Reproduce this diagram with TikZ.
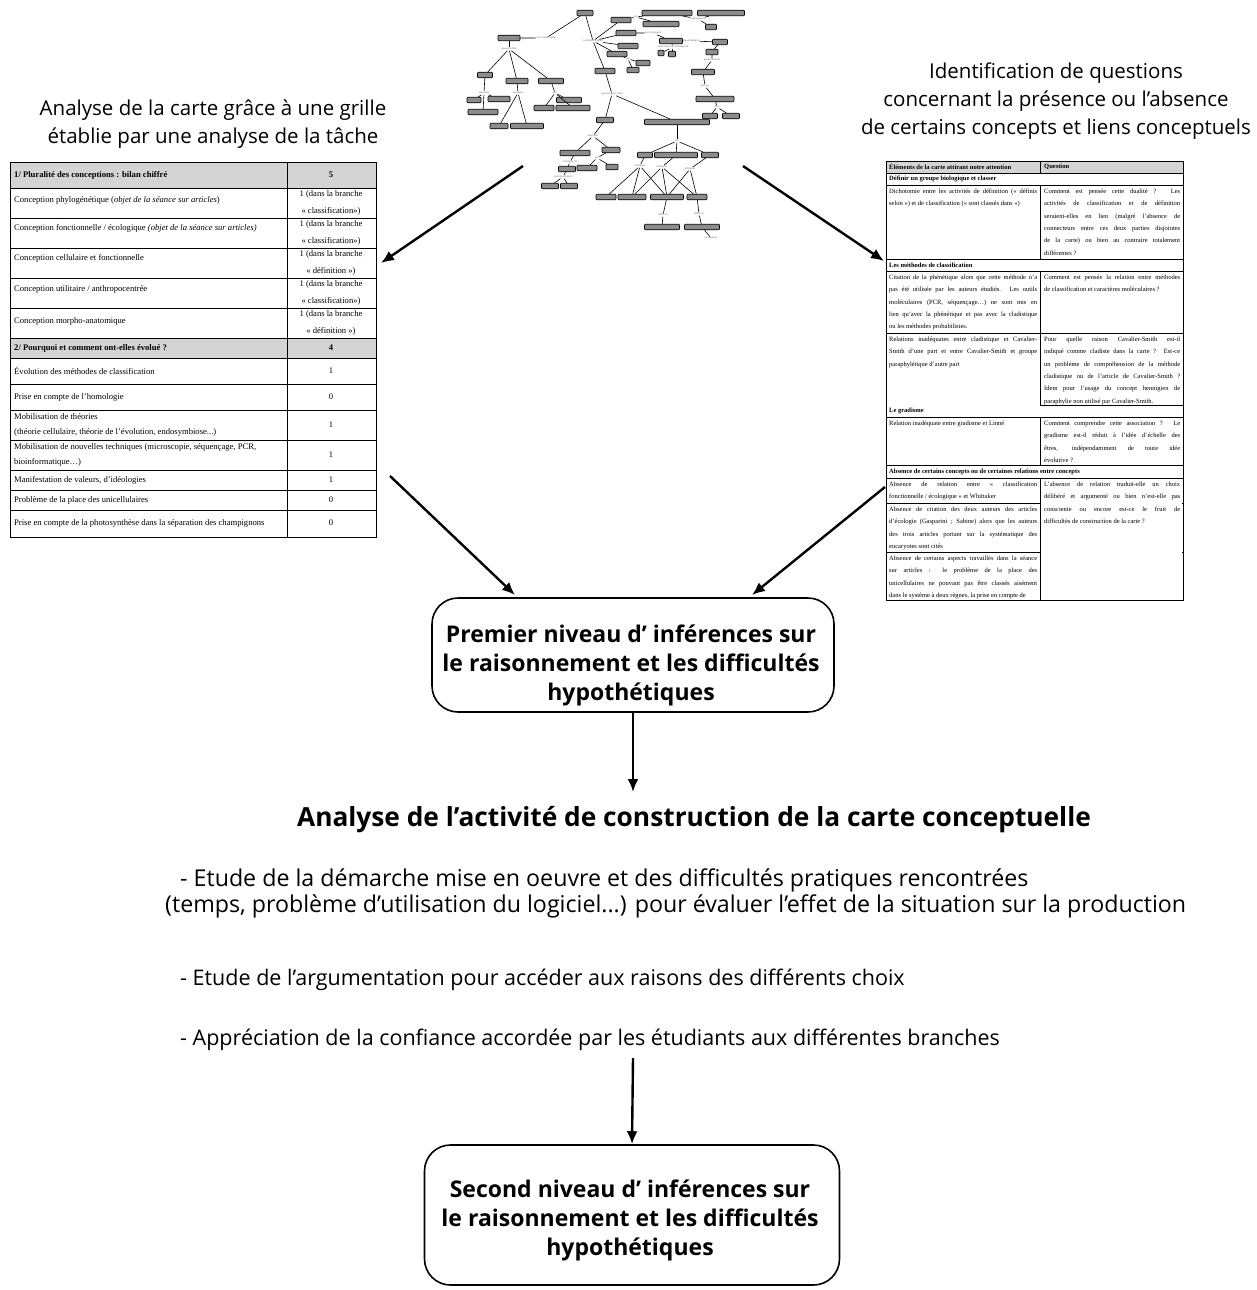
\documentclass[tikz,border=0pt]{standalone}
\usepackage{fontspec}
\setmainfont{Liberation Serif}
\newfontfamily\sansf{Open Sans}
\usetikzlibrary{arrows.meta}
\definecolor{tabgray}{HTML}{D4D4D4}
\definecolor{cmgray}{HTML}{8C8C8C}
\newcommand\cmn[4]{\node[cmbox,minimum width=#4pt] (#1) at (#2,#3) {};}
\newcommand\cml[4]{\node[cmlab] (#1) at (#2,#3) {#4};}
\begin{document}
\begin{tikzpicture}[x=1pt,y=-1pt,
  tabline/.style={line width=0.8pt},
  ltxt/.style={anchor=west,inner sep=0pt,font=\fontsize{8.6}{15}\selectfont},
  lval/.style={align=center,inner sep=0pt,font=\fontsize{8.6}{17}\selectfont},
  rtl/.style={anchor=north west,inner sep=0pt,text width=148pt,align=justify,font=\fontsize{6.5}{12.4}\selectfont},
  rtr/.style={anchor=north west,inner sep=0pt,text width=136pt,align=justify,font=\fontsize{6.5}{12.4}\selectfont},
  rhd/.style={anchor=west,inner sep=0pt,font=\bfseries\fontsize{6.5}{12.4}\selectfont},
  cmbox/.style={draw=black,fill=cmgray,rounded corners=0.8pt,line width=0.6pt,minimum height=5.5pt,inner sep=0pt},
  cmlab/.style={font=\sansf\fontsize{2.4}{2.6}\selectfont,text=black!65,inner sep=0.4pt,fill=white},
  cmedge/.style={line width=0.6pt},
  bigarrow/.style={line width=2.4pt,-{Latex[length=13pt,width=11pt]}},
  toptxt/.style={align=center,inner sep=0pt,font=\sansf\fontsize{20.5}{28}\selectfont},
  bigbox/.style={draw,line width=1.6pt,rounded corners=26pt},
  boxtxt/.style={align=center,inner sep=0pt,font=\sansf\bfseries\fontsize{23}{29}\selectfont},
  bultxt/.style={anchor=west,align=left,inner sep=0pt,font=\sansf\fontsize{21.5}{26}\selectfont}
]
\useasboundingbox (0,0) rectangle (1257,1290);
\fill[white] (0,0) rectangle (1257,1290);

% ---------------- top texts
\node[toptxt] (tl) at (213,124) {Analyse de la carte grâce à une grille\\établie par une analyse de la tâche};
\node[toptxt] (tr) at (1056,101) {Identification de questions\\concernant la présence ou l’absence\\de certains concepts et liens conceptuels};

% ---------------- concept map
\cmn{V}{585}{13}{16}
\cmn{A}{509}{38}{22}
\cml{Lscd}{546}{38}{sont classés dans}
\cml{Lpe}{509}{49}{peuvent être}
\cmn{B1}{485}{75}{15}
\cmn{B2}{517}{81}{22}
\cmn{B3}{551}{81}{25}
\cml{Lx1}{484}{93}{exemples}
\cmn{C1}{474}{100}{14}
\cmn{C2}{499}{99}{22}
\cmn{C3}{483}{112}{30}
\cml{Lx2}{518}{93}{exemples}
\cmn{C4}{499}{126}{18}
\cmn{C5}{527}{126}{33}
\cml{Lp}{555}{93}{par}
\cmn{C6}{544}{108}{20}
\cmn{C7}{569}{100}{25}
\cmn{C8}{573}{108}{34}
\cml{Lsds}{593}{41}{sont définis selon}
\cmn{D1}{621}{20}{20}
\cmn{D2}{626}{33}{20}
\cmn{D3}{628}{46}{20}
\cmn{D4}{617}{54}{20}
\cmn{K}{605}{71}{20}
\cml{Lsm}{636}{17}{par}
\cmn{E1}{667}{13}{50}
\cmn{E2}{661}{24}{36}
\cml{Lhy}{698}{19}{regroupés en}
\cmn{E3}{721}{13}{47}
\cmn{E4}{711}{27}{11}
\cml{Lqi}{653}{33}{qui impliquent}
\cmn{F}{671}{41}{23}
\cml{Lcar}{673}{47}{caractérisé par l’échange de}
\cmn{F1}{661}{53}{6}
\cmn{F2}{672}{54}{7}
\cml{Lld}{691}{41}{lequel désigne}
\cmn{G}{720}{42}{15}
\cmn{G2}{712}{52}{12}
\cml{Lqp}{712}{60}{qui produisent}
\cmn{G3}{703}{72}{23}
\cml{Lga}{705}{86}{grâce à}
\cmn{G4}{715}{99}{38}
\cml{Lp2}{717}{107}{par}
\cmn{G5}{710}{116}{15}
\cmn{G6}{731}{116}{17}
\cml{Lpar}{628}{59}{par}
\cmn{H1}{643}{63}{14}
\cmn{H2}{633}{70}{12}
\cml{Lqds}{612}{94}{qui divergent selon}
\cmn{M}{605}{120}{17}
\cmn{N}{677}{122}{65}
\cml{Lex}{593}{136}{exemples}
\cmn{P1}{575}{153}{30}
\cmn{P2}{611}{150}{18}
\cml{Lor}{570}{162}{à l’origine de}
\cmn{Q}{567}{169}{17}
\cml{Lpc}{563}{177}{prendre compte}
\cmn{Q1}{550}{186}{17}
\cmn{Q2}{569}{186}{17}
\cml{Lpr}{597}{158}{par}
\cmn{R1}{587}{168}{20}
\cmn{R2}{612}{167}{12}
\cml{Lm}{677}{141}{par}
\cmn{S1}{645}{155}{15}
\cmn{S2}{676}{155}{43}
\cmn{S3}{710}{155}{17}
\cml{U1}{640}{166}{utilisé par}
\cml{U2}{662}{167}{utilisé par}
\cml{U3}{690}{169}{utilisé par}
\cmn{T1}{606}{197}{20}
\cmn{T2}{632}{197}{28}
\cmn{T3}{667}{197}{33}
\cmn{T4}{697}{197}{20}
\cml{Ld1}{663}{215}{défini un}
\cml{Ld2}{699}{214}{défini un}
\cmn{W1}{662}{227}{35}
\cmn{W2}{702}{227}{35}
\cml{Led}{711}{238}{en déduire}

\begin{scope}[cmedge]
\draw (A) -- (Lscd) -- (V);
\draw (A) -- (Lpe);
\draw (Lpe) -- (B1); \draw (Lpe) -- (B2); \draw (Lpe) -- (B3);
\draw (B1) -- (Lx1); \draw (Lx1) -- (C1); \draw (Lx1) -- (C2); \draw (Lx1) -- (C3);
\draw (B2) -- (Lx2); \draw (Lx2) -- (C4); \draw (Lx2) -- (C5);
\draw (B3) -- (Lp); \draw (Lp) -- (C6); \draw (Lp) -- (C7); \draw (Lp) -- (C8);
\draw (V) -- (Lsds); \draw (Lsds) -- (K);
\draw (Lsds) -- (D1); \draw (Lsds) -- (D2); \draw (Lsds) -- (D3); \draw (Lsds) -- (D4);
\draw (D1) -- (Lsm); \draw (Lsm) -- (E1); \draw (Lsm) -- (E2);
\draw (E1) -- (Lhy); \draw (E3) -- (Lhy); \draw (Lhy) -- (E4);
\draw (D2) -- (Lqi) -- (F);
\draw (F) -- (Lcar); \draw (Lcar) -- (F1); \draw (Lcar) -- (F2);
\draw (F) -- (Lld) -- (G);
\draw (G) -- (G2) -- (Lqp) -- (G3) -- (Lga) -- (G4) -- (Lp2);
\draw (Lp2) -- (G5); \draw (Lp2) -- (G6);
\draw (D4) -- (Lpar); \draw (Lpar) -- (H1); \draw (Lpar) -- (H2);
\draw (K) -- (Lqds); \draw (Lqds) -- (M); \draw (Lqds) -- (N);
\draw (M) -- (Lex); \draw (Lex) -- (P1); \draw (Lex) -- (P2);
\draw (P1) -- (Lor) -- (Q) -- (Lpc); \draw (Lpc) -- (Q1); \draw (Lpc) -- (Q2);
\draw (P2) -- (Lpr); \draw (Lpr) -- (R1); \draw (Lpr) -- (R2);
\draw (N) -- (Lm); \draw (Lm) -- (S1); \draw (Lm) -- (S2); \draw (Lm) -- (S3);
\draw (S1) -- (U1); \draw (S2) -- (U2); \draw (S3) -- (U3);
\draw (U1) -- (T1); \draw (U1) -- (T2); \draw (U1) -- (T3);
\draw (U2) -- (T2); \draw (U2) -- (T3); \draw (U2) -- (T4);
\draw (U3) -- (T3); \draw (U3) -- (T4);
\draw (T3) -- (Ld1) -- (W1);
\draw (T4) -- (Ld2) -- (W2) -- (Led);
\end{scope}

% ---------------- left table
\fill[tabgray] (10,162) rectangle (376,188);
\fill[tabgray] (10,338) rectangle (376,358);
\begin{scope}[tabline]
\draw (10,162) rectangle (376,537);
\draw (287,162) -- (287,537);
\foreach \yy in {188,218,248,278,308,338,358,384,410,440,470,490,510}
  \draw (10,\yy) -- (376,\yy);
\end{scope}
\node[ltxt] (l0) at (14,175) {\bfseries 1/ Pluralité des conceptions : bilan chiffré};
\node[lval] (v0) at (331,175) {\bfseries 5};
\node[ltxt] (l1) at (14,200) {Conception phylogénétique (\textit{objet de la séance sur articles})};
\node[lval] (v1) at (331,203) {1 (dans la branche\\« classification»)};
\node[ltxt] (l2) at (14,228) {Conception fonctionnelle / écologique \textit{(objet de la séance sur articles)}};
\node[lval] (v2) at (331,233) {1 (dans la branche\\« classification»)};
\node[ltxt] (l3) at (14,258) {Conception cellulaire et fonctionnelle};
\node[lval] (v3) at (331,263) {1 (dans la branche\\« définition »)};
\node[ltxt] (l4) at (14,289) {Conception utilitaire / anthropocentrée};
\node[lval] (v4) at (331,293) {1 (dans la branche\\« classification»)};
\node[ltxt] (l5) at (14,321) {Conception morpho-anatomique};
\node[lval] (v5) at (331,323) {1 (dans la branche\\« définition »)};
\node[ltxt] (l6) at (14,348) {\bfseries 2/ Pourquoi et comment ont-elles évolué ?};
\node[lval] (v6) at (331,348) {\bfseries 4};
\node[ltxt] (l7) at (14,371) {Évolution des méthodes de classification};
\node[lval] (v7) at (331,371) {1};
\node[ltxt] (l8) at (14,397) {Prise en compte de l’homologie};
\node[lval] (v8) at (331,397) {0};
\node[ltxt,align=left] (l9) at (14,425) {Mobilisation de théories\\(théorie cellulaire, théorie de l’évolution, endosymbiose...)};
\node[lval] (v9) at (331,425) {1};
\node[ltxt,align=left] (l10) at (14,455) {Mobilisation de nouvelles techniques (microscopie, séquençage, PCR,\\bioinformatique…)};
\node[lval] (v10) at (331,455) {1};
\node[ltxt] (l11) at (14,480) {Manifestation de valeurs, d’idéologies};
\node[lval] (v11) at (331,480) {1};
\node[ltxt] (l12) at (14,500) {Problème de la place des unicellulaires};
\node[lval] (v12) at (331,500) {0};
\node[ltxt] (l13) at (14,523) {Prise en compte de la photosynthèse dans la séparation des champignons};
\node[lval] (v13) at (331,523) {0};

% ---------------- right table
\fill[tabgray] (886,161) rectangle (1183,173);
\begin{scope}[tabline]
\draw (886,161) rectangle (1183,600);
\foreach \yy in {173,185,259,271,333,417,465,478,503,552}
  \draw (886,\yy) -- (1183,\yy);
\draw (1040,405) -- (1183,405);
\draw (1040,161) -- (1040,173);
\draw (1040,185) -- (1040,259);
\draw (1040,271) -- (1040,405);
\draw (1040,417) -- (1040,465);
\end{scope}
\fill[white] (1040.6,478.6) rectangle (1182.4,599.4);
\draw[tabline] (1040,478) -- (1040,600);
\node[rhd] (rh0) at (889,167) {Éléments de la carte attirant notre attention};
\node[rhd] (rh1) at (1044,167) {Question};
\node[rhd] (rs1) at (889,179) {Définir un groupe biologique et classer};
\node[rtl] (r1l) at (889,188.5) {Dichotomie entre les activités de définition (« définis\linebreak selon ») et de classification (« sont classés dans »)};
\node[rtr] (r1r) at (1044,188.5) {Comment est pensée cette dualité ? Les\linebreak activités de classification et de définition\linebreak seraient-elles en lien (malgré l’absence de\linebreak connecteurs entre ces deux parties disjointes\linebreak de la carte) ou bien au contraire totalement\linebreak différentes ?};
\node[rhd] (rs2) at (889,265) {Les méthodes de classification};
\node[rtl] (r2l) at (889,274.5) {Citation de la phénétique alors que cette méthode n’a\linebreak pas été utilisée par les auteurs étudiés. Les outils\linebreak moléculaires (PCR, séquençage…) ne sont mis en\linebreak lien qu’avec la phénétique et pas avec la cladistique\linebreak ou les méthodes probabilistes.};
\node[rtr] (r2r) at (1044,274.5) {Comment est pensée la relation entre méthodes\linebreak de classification et caractères moléculaires ?};
\node[rtl] (r3l) at (889,336.5) {Relations inadéquates entre cladistique et Cavalier-\linebreak Smith d’une part et entre Cavalier-Smith et groupe\linebreak paraphylétique d’autre part};
\node[rtr] (r3r) at (1044,336.5) {Pour quelle raison Cavalier-Smith est-il\linebreak indiqué comme cladiste dans la carte ? Est-ce\linebreak un problème de compréhension de la méthode\linebreak cladistique ou de l’article de Cavalier-Smith ?\linebreak Idem pour l’usage du concept hennigien de\linebreak paraphylie non utilisé par Cavalier-Smith.};
\node[rhd] (rs3) at (889,411) {Le gradisme};
\node[rtl] (r4l) at (889,420.5) {Relation inadéquate entre gradisme et Linné};
\node[rtr] (r4r) at (1044,420.5) {Comment comprendre cette association ? Le\linebreak gradisme est-il réduit à l’idée d’échelle des\linebreak êtres, indépendamment de toute idée\linebreak évolutive ?};
\node[rhd] (rs4) at (889,471.5) {Absence de certains concepts ou de certaines relations entre concepts};
\node[rtl] (r5a) at (889,481.5) {Absence de relation entre « classification\linebreak fonctionnelle / écologique » et Whittaker};
\node[rtl] (r5b) at (889,506.5) {Absence de citation des deux auteurs des articles\linebreak d’écologie (Gasparini ; Sabine) alors que les auteurs\linebreak des trois articles portant sur la systématique des\linebreak eucaryotes sont cités};
\node[rtl] (r5c) at (889,555.5) {Absence de certains aspects travaillés dans la séance\linebreak sur articles : le problème de la place des\linebreak unicellulaires ne pouvant pas être classés aisément\linebreak dans le système à deux règnes, la prise en compte de};
\node[rtr] (r5r) at (1044,481.5) {L’absence de relation traduit-elle un choix\linebreak délibéré et argumenté ou bien n’est-elle pas\linebreak consciente ou encore est-ce le fruit de\linebreak difficultés de construction de la carte ?};

% ---------------- boxes and lower texts
\node[bigbox,minimum width=402pt,minimum height=114pt] (b1) at (633,655) {};
\node[boxtxt] (b1t) at (631,665) {Premier niveau d’ inférences sur\\le raisonnement et les difficultés\\hypothétiques};
\node[inner sep=0pt,font=\sansf\bfseries\fontsize{26.3}{30}\selectfont] (head) at (694,820) {Analyse de l’activité de construction de la carte conceptuelle};
\node[bultxt,font=\sansf\fontsize{23.2}{26}\selectfont] (bul1) at (165,893) {\hspace*{15pt}- Etude de la démarche mise en oeuvre et des difficultés pratiques rencontrées\\(temps, problème d’utilisation du logiciel...) pour évaluer l’effet de la situation sur la production};
\node[bultxt] (bul2) at (180,980) {- Etude de l’argumentation pour accéder aux raisons des différents choix};
\node[bultxt] (bul3) at (180,1040) {- Appréciation de la confiance accordée par les étudiants aux différentes branches};
\node[bigbox,minimum width=415pt,minimum height=140pt] (b2) at (632,1215) {};
\node[boxtxt] (b2t) at (630,1220) {Second niveau d’ inférences sur\\le raisonnement et les difficultés\\hypothétiques};

% ---------------- arrows
\coordinate (cmSW) at (523,166);
\coordinate (ltabE) at (381,263);
\coordinate (cmSE) at (743,166);
\coordinate (rtabW) at (884,261);
\coordinate (ltabLow) at (390,476);
\coordinate (b1NW) at (515,595);
\coordinate (rtabLow) at (885,487);
\coordinate (b1NE) at (752,595);
\coordinate (headTop) at (633,792);
\coordinate (bul3Low) at (633,1058);
\draw[bigarrow] (cmSW) -- (ltabE);
\draw[bigarrow] (cmSE) -- (rtabW);
\draw[bigarrow] (ltabLow) -- (b1NW);
\draw[bigarrow] (rtabLow) -- (b1NE);
\draw[bigarrow] (b1.south) -- (headTop);
\draw[bigarrow] (bul3Low) -- (b2.north);
\end{tikzpicture}
\end{document}
